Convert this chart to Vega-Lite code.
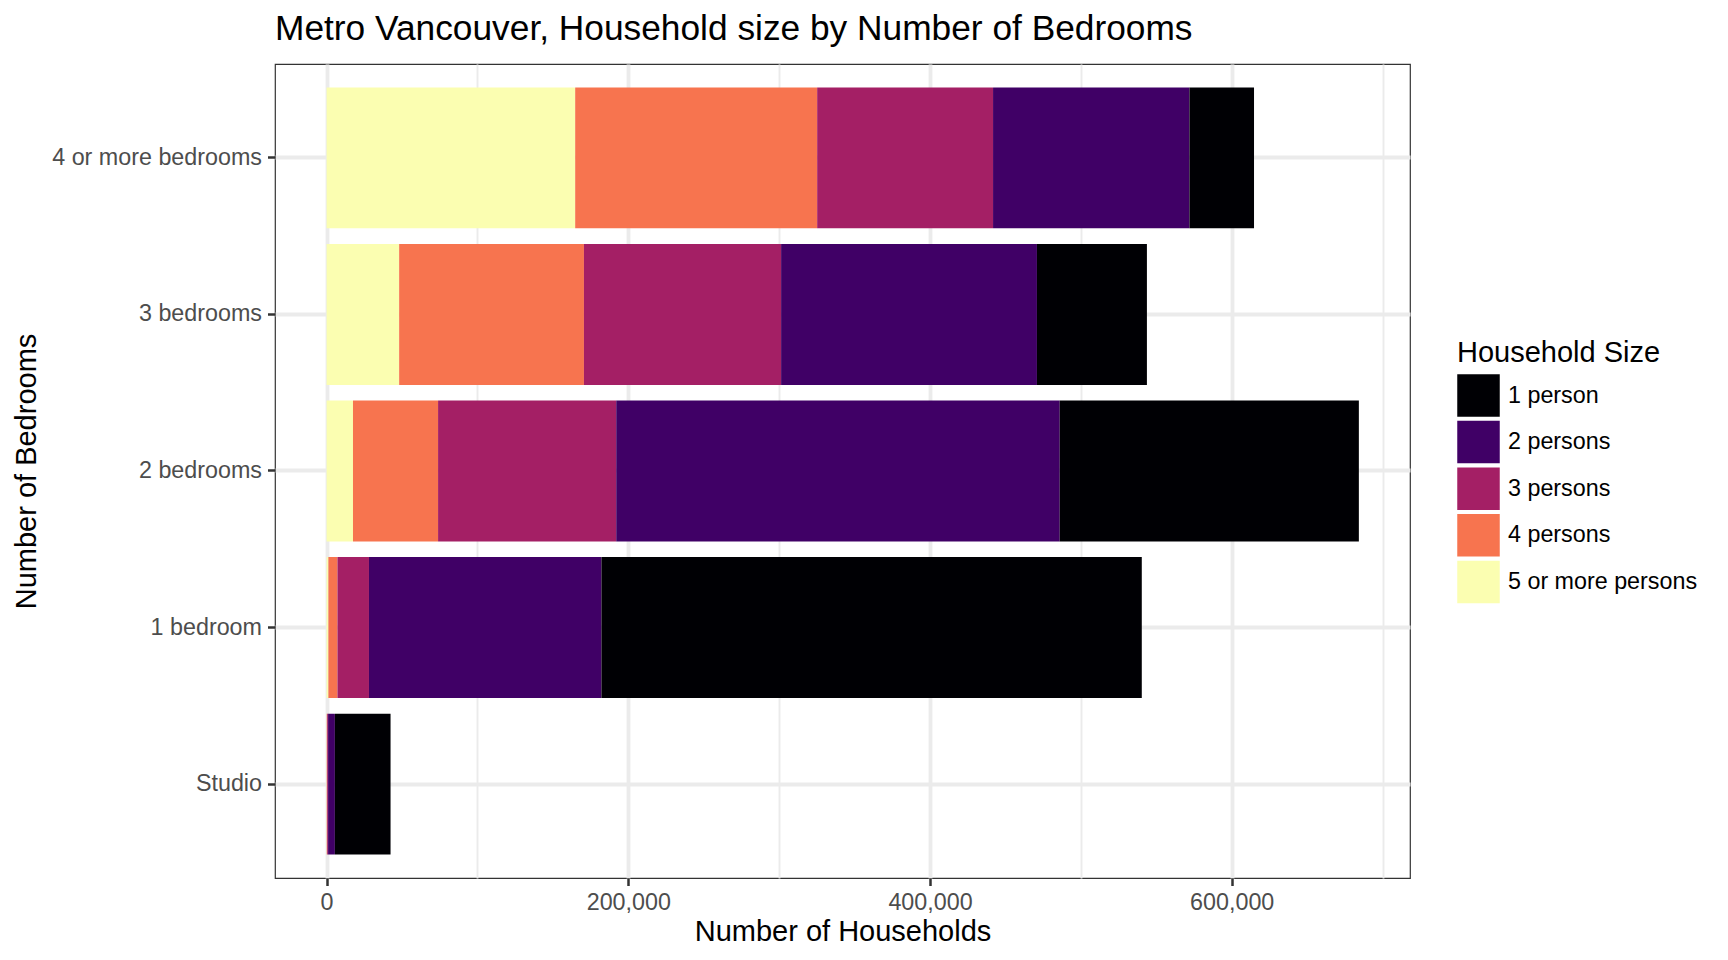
{
  "$schema": "https://vega.github.io/schema/vega-lite/v6.json",
  "width": 1135,
  "height": 814,
  "autosize": {"type": "none"},
  "padding": {"left": 275, "top": 64, "right": 318, "bottom": 82},
  "background": "white",
  "title": {
    "text": "Metro Vancouver, Household size by Number of Bedrooms",
    "anchor": "start",
    "frame": "group",
    "fontSize": 35.3,
    "fontWeight": "normal",
    "font": "Liberation Sans",
    "color": "black",
    "baseline": "alphabetic",
    "offset": -11,
    "limit": 1400
  },
  "data": {
    "values": [
      {"bedrooms": "4 or more bedrooms", "size": "5 or more persons", "households": 164800},
      {"bedrooms": "4 or more bedrooms", "size": "4 persons", "households": 160400},
      {"bedrooms": "4 or more bedrooms", "size": "3 persons", "households": 116600},
      {"bedrooms": "4 or more bedrooms", "size": "2 persons", "households": 130200},
      {"bedrooms": "4 or more bedrooms", "size": "1 person", "households": 42800},
      {"bedrooms": "3 bedrooms", "size": "5 or more persons", "households": 48100},
      {"bedrooms": "3 bedrooms", "size": "4 persons", "households": 122500},
      {"bedrooms": "3 bedrooms", "size": "3 persons", "households": 130700},
      {"bedrooms": "3 bedrooms", "size": "2 persons", "households": 169600},
      {"bedrooms": "3 bedrooms", "size": "1 person", "households": 72900},
      {"bedrooms": "2 bedrooms", "size": "5 or more persons", "households": 17500},
      {"bedrooms": "2 bedrooms", "size": "4 persons", "households": 56400},
      {"bedrooms": "2 bedrooms", "size": "3 persons", "households": 118100},
      {"bedrooms": "2 bedrooms", "size": "2 persons", "households": 294000},
      {"bedrooms": "2 bedrooms", "size": "1 person", "households": 198300},
      {"bedrooms": "1 bedroom", "size": "5 or more persons", "households": 1200},
      {"bedrooms": "1 bedroom", "size": "4 persons", "households": 6000},
      {"bedrooms": "1 bedroom", "size": "3 persons", "households": 20900},
      {"bedrooms": "1 bedroom", "size": "2 persons", "households": 154100},
      {"bedrooms": "1 bedroom", "size": "1 person", "households": 358200},
      {"bedrooms": "Studio", "size": "5 or more persons", "households": 100},
      {"bedrooms": "Studio", "size": "4 persons", "households": 300},
      {"bedrooms": "Studio", "size": "3 persons", "households": 600},
      {"bedrooms": "Studio", "size": "2 persons", "households": 4500},
      {"bedrooms": "Studio", "size": "1 person", "households": 36900}
    ]
  },
  "mark": {"type": "bar"},
  "encoding": {
    "y": {
      "field": "bedrooms",
      "type": "nominal",
      "sort": ["4 or more bedrooms", "3 bedrooms", "2 bedrooms", "1 bedroom", "Studio"],
      "scale": {"paddingInner": 0.1, "paddingOuter": 0.15},
      "title": "Number of Bedrooms",
      "axis": {
        "grid": true,
        "gridColor": "#EBEBEB",
        "gridWidth": 3.8,
        "bandPosition": 0.5,
        "tickColor": "#333333",
        "tickWidth": 2.5,
        "tickSize": 7.5,
        "domain": false,
        "labelFontSize": 23.3,
        "labelColor": "#4D4D4D",
        "labelPadding": 6,
        "labelLimit": 400,
        "titleFontSize": 29,
        "titleFontWeight": "normal",
        "titleColor": "black",
        "titleBaseline": "alphabetic",
        "titleX": -240,
        "titleY": 407
      }
    },
    "x": {
      "field": "households",
      "type": "quantitative",
      "stack": "zero",
      "title": "Number of Households",
      "scale": {"domain": [-34200, 718200], "nice": false, "zero": false},
      "axis": {
        "values": [0, 100000, 200000, 300000, 400000, 500000, 600000, 700000],
        "grid": true,
        "gridColor": "#EBEBEB",
        "gridWidth": {"condition": {"test": "datum.value % 200000 === 0", "value": 3.8}, "value": 1.9},
        "labelExpr": "datum.value % 200000 === 0 ? format(datum.value, ',') : ''",
        "tickOpacity": {"condition": {"test": "datum.value % 200000 === 0", "value": 1}, "value": 0},
        "tickColor": "#333333",
        "tickWidth": 2.5,
        "tickSize": 7.5,
        "domain": false,
        "labelFontSize": 23.3,
        "labelColor": "#4D4D4D",
        "labelPadding": 6,
        "labelFlush": false,
        "labelOverlap": false,
        "titleFontSize": 29,
        "titleFontWeight": "normal",
        "titleColor": "black",
        "titleBaseline": "alphabetic",
        "titleX": 567.5,
        "titleY": 62
      }
    },
    "color": {
      "field": "size",
      "type": "nominal",
      "title": "Household Size",
      "scale": {
        "domain": ["1 person", "2 persons", "3 persons", "4 persons", "5 or more persons"],
        "range": ["#000004", "#400066", "#A41F65", "#F7744F", "#FBFEB1"]
      },
      "legend": {
        "orient": "none",
        "legendX": 1182,
        "legendY": 275,
        "symbolType": "square",
        "symbolSize": 1806,
        "symbolStrokeWidth": 0,
        "symbolOpacity": 1,
        "labelFontSize": 23.3,
        "labelColor": "black",
        "labelOffset": 8,
        "labelLimit": 400,
        "titleFontSize": 29,
        "titleFontWeight": "normal",
        "titleColor": "black",
        "titlePadding": 6,
        "titleLimit": 400,
        "rowPadding": 3.6,
        "padding": 0
      }
    },
    "order": {"field": "size", "sort": "descending"}
  },
  "config": {
    "font": "Liberation Sans",
    "view": {"stroke": "#333333", "strokeWidth": 1.2}
  }
}
